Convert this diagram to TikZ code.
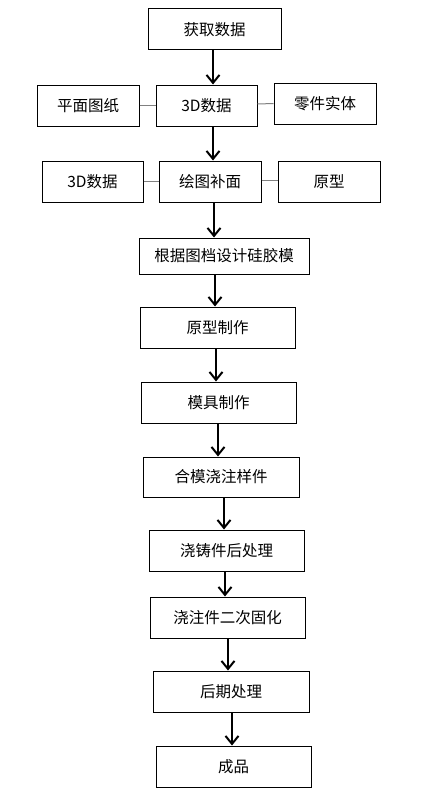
\documentclass[tikz,border=0pt]{standalone}
\usepackage{fontspec}
\setmainfont{Noto Sans CJK SC}
\usetikzlibrary{arrows.meta}

\tikzset{
  stepbox/.style={draw, line width=1pt, inner sep=0pt, minimum height=41pt},
  link/.style={draw=gray, line width=1pt},
  flow/.style={line width=2pt, -{Straight Barb[length=8pt,width=13pt]}}
}

\begin{document}
\begin{tikzpicture}[x=1pt, y=-1pt, every node/.style={font=\fontsize{15.5}{18}\selectfont}]
\useasboundingbox (0,0) rectangle (425,808);

% top rows
\node[stepbox, minimum width=133pt] (getdata) at (214.5,29.5) {获取数据};
\node[stepbox, minimum width=102pt] (drawing) at (88,105.5) {平面图纸};
\node[stepbox, minimum width=101pt] (data3d) at (206.5,105.5) {3D数据};
\node[stepbox, minimum width=102pt] (part) at (325,103.5) {零件实体};
\node[stepbox, minimum width=101pt] (data3db) at (92.5,181.5) {3D数据};
\node[stepbox, minimum width=102pt] (surface) at (210,181.5) {绘图补面};
\node[stepbox, minimum width=102pt] (proto) at (329,181.5) {原型};

% main column
\node[stepbox, minimum width=170pt, minimum height=36pt] (mold) at (224,256) {根据图档设计硅胶模};
\node[stepbox, minimum width=155pt] (protomake) at (217.5,327.5) {原型制作};
\node[stepbox, minimum width=155pt] (toolmake) at (218.5,402.5) {模具制作};
\node[stepbox, minimum width=156pt, minimum height=40pt] (cast) at (221,477) {合模浇注样件};
\node[stepbox, minimum width=155pt] (post) at (226.5,550.5) {浇铸件后处理};
\node[stepbox, minimum width=155pt] (cure) at (227.5,617.5) {浇注件二次固化};
\node[stepbox, minimum width=156pt] (finish) at (231,691.5) {后期处理};
\node[stepbox, minimum width=155pt] (product) at (233.5,766.5) {成品};

% side links
\draw[link] (drawing.east) -- (data3d.west);
\draw[link] (data3d.east |- 0,104) -- (part.west);
\draw[link] (data3db.east) -- (surface.west);
\draw[link] (surface.east |- 0,180) -- (proto.west |- 0,180);

% arrows
\draw[flow] (getdata.south -| 213,0) -- (data3d.north -| 213,0);
\draw[flow] (data3d.south -| 213,0) -- (surface.north -| 213,0);
\draw[flow] (surface.south -| 214,0) -- (mold.north -| 214,0);
\draw[flow] (mold.south -| 215,0) -- (protomake.north -| 215,0);
\draw[flow] (protomake.south -| 216,0) -- (toolmake.north -| 216,0);
\draw[flow] (toolmake.south -| 218,0) -- (cast.north -| 218,0);
\draw[flow] (cast.south -| 224,0) -- (post.north -| 224,0);
\draw[flow] (post.south -| 225,0) -- (cure.north -| 225,0);
\draw[flow] (cure.south -| 228,0) -- (finish.north -| 228,0);
\draw[flow] (finish.south -| 232,0) -- (product.north -| 232,0);
\end{tikzpicture}
\end{document}
